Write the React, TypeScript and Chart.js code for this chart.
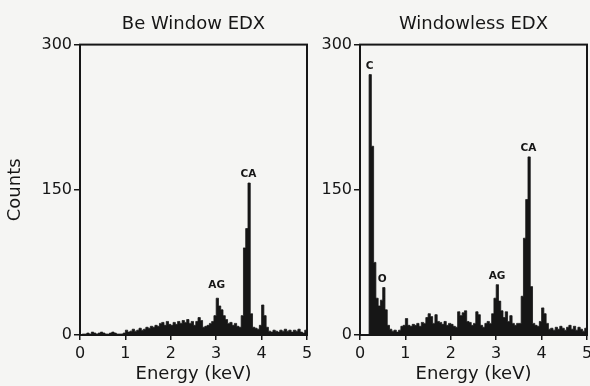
import React, { useEffect, useRef } from "react";
import { Chart, registerables } from "chart.js";

Chart.register(...registerables);

// ---- data ----
const binWidthKeV = 0.05;
const binCentersKeV: number[] = Array.from({ length: 100 }, (_, i) => +(binWidthKeV / 2 + i * binWidthKeV).toFixed(3));

const beWindowCounts = [
  0, 1, 1, 2, 1, 3, 2, 1, 2, 3,
  2, 1, 1, 2, 3, 2, 1, 1, 1, 2,
  5, 3, 4, 6, 4, 5, 7, 5, 6, 8,
  7, 9, 8, 10, 9, 12, 13, 10, 14, 11,
  10, 13, 11, 14, 12, 15, 13, 16, 12, 14,
  10, 14, 18, 15, 8, 9, 10, 12, 14, 20,
  38, 30, 26, 20, 16, 12, 13, 10, 12, 9,
  8, 20, 90, 110, 157, 22, 8, 7, 6, 10,
  31, 20, 8, 4, 3, 5, 4, 3, 5, 4,
  6, 4, 5, 3, 5, 4, 6, 3, 2, 5,
];

const windowlessCounts = [
  0, 0, 0, 0, 269, 195, 75, 38, 30, 36,
  49, 26, 10, 6, 4, 5, 3, 5, 9, 10,
  17, 10, 9, 11, 10, 12, 9, 13, 12, 18,
  22, 19, 12, 21, 14, 13, 11, 14, 10, 12,
  11, 9, 8, 24, 20, 23, 25, 14, 13, 10,
  12, 24, 21, 10, 8, 12, 14, 12, 22, 38,
  52, 35, 25, 18, 24, 14, 20, 12, 10, 12,
  12, 40, 100, 140, 184, 50, 12, 10, 9, 14,
  28, 22, 12, 6, 7, 5, 8, 6, 9, 7,
  5, 8, 10, 6, 9, 5, 8, 6, 4, 7,
];

const xTickValues = [0, 1, 2, 3, 4, 5];
const yTickValues = [0, 150, 300];

const beWindowPeakLabels = ["AG", "CA"];
const beWindowPeakKeV = [3.01, 3.71];
const beWindowPeakLabelY = [51, 166];

const windowlessPeakLabels = ["C", "O", "AG", "CA"];
const windowlessPeakKeV = [0.21, 0.49, 3.02, 3.71];
const windowlessPeakLabelY = [278, 58, 61, 193];

const titles = ["Be Window EDX", "Windowless EDX"];
const xTitle = "Energy (keV)";
const yTitle = "Counts";

// ---- styles ----
const INK = "#161616";
const BG = "#f5f5f3";
const FONT = "'DejaVu Sans', sans-serif";

type PanelProps = {
  title: string;
  counts: number[];
  peakLabels: string[];
  peakKeV: number[];
  peakY: number[];
  showYTitle: boolean;
  left: number;
  width: number;
  yAxisWidth: number;
  padRight: number;
};

function SpectrumPanel(p: PanelProps) {
  const ref = useRef<HTMLCanvasElement>(null);
  useEffect(() => {
    if (!ref.current) return;
    const points = [
      { x: 0, y: p.counts[0] },
      ...binCentersKeV.map((x, i) => ({ x, y: p.counts[i] })),
      { x: 5, y: p.counts[p.counts.length - 1] },
    ];
    const framePlugin = {
      id: "frame",
      afterDatasetsDraw(chart: any) {
        const { ctx, chartArea } = chart;
        const { left, top, right, bottom } = chartArea;
        ctx.save();
        ctx.strokeStyle = INK;
        ctx.lineWidth = 2;
        ctx.strokeRect(left, top, right - left, bottom - top);
        ctx.restore();
      },
    };
    const peakPlugin = {
      id: "peakLabels",
      afterDraw(chart: any) {
        const { ctx } = chart;
        const xs = chart.scales.x;
        const ys = chart.scales.y;
        ctx.save();
        ctx.fillStyle = INK;
        ctx.font = `bold 10.5px ${FONT}`;
        ctx.textAlign = "center";
        ctx.textBaseline = "middle";
        p.peakLabels.forEach((lab, i) => {
          ctx.fillText(lab, xs.getPixelForValue(p.peakKeV[i]), ys.getPixelForValue(p.peakY[i]));
        });
        ctx.restore();
      },
    };
    const tickFont = { family: FONT, size: 16 };
    const titleFont = { family: FONT, size: 18, weight: "normal" as const };
    const chart = new Chart(ref.current, {
      type: "line",
      data: {
        datasets: [
          {
            data: points,
            stepped: "middle",
            fill: "origin",
            backgroundColor: INK,
            borderColor: INK,
            borderWidth: 0.8,
            pointRadius: 0,
          } as any,
        ],
      },
      options: {
        responsive: false,
        animation: false,
        layout: { padding: { left: 0, right: p.padRight, top: 0, bottom: 0 } },
        plugins: {
          legend: { display: false },
          tooltip: { enabled: false },
          title: {
            display: true,
            text: p.title,
            fullSize: false,
            color: INK,
            font: titleFont,
            padding: { top: 14, bottom: 9 },
          },
        },
        scales: {
          x: {
            type: "linear",
            min: 0,
            max: 5,
            afterBuildTicks: (s: any) => {
              s.ticks = xTickValues.map((v) => ({ value: v }));
            },
            ticks: { font: tickFont, color: INK, padding: 4, maxRotation: 0, autoSkip: false },
            grid: { display: true, drawOnChartArea: false, drawTicks: true, tickLength: 5, color: INK, lineWidth: 1.5 },
            border: { display: false },
            title: { display: true, text: xTitle, color: INK, font: titleFont, padding: { top: 0, bottom: 1 } },
            afterFit: (s: any) => {
              s.height = 51;
              s.paddingLeft = 0;
              s.paddingRight = 0;
            },
          },
          y: {
            min: 0,
            max: 300,
            afterBuildTicks: (s: any) => {
              s.ticks = yTickValues.map((v) => ({ value: v }));
            },
            ticks: { font: tickFont, color: INK, padding: 2 },
            grid: { display: true, drawOnChartArea: false, drawTicks: true, tickLength: 6, color: INK, lineWidth: 1.5 },
            border: { display: false },
            title: { display: p.showYTitle, text: yTitle, color: INK, font: titleFont, padding: { top: 5, bottom: 0 } },
            afterFit: (s: any) => {
              s.width = p.yAxisWidth;
              s.paddingTop = 0;
              s.paddingBottom = 0;
            },
          },
        },
      },
      plugins: [framePlugin, peakPlugin],
    } as any);
    return () => chart.destroy();
  }, []);
  return (
    <canvas
      ref={ref}
      width={p.width}
      height={386}
      style={{ position: "absolute", left: p.left, top: 0, width: p.width, height: 386 }}
    />
  );
}

export default function App() {
  useEffect(() => {
    document.body.style.margin = "0";
    document.body.style.background = BG;
  }, []);
  return (
    <div style={{ position: "absolute", left: 0, top: 0, width: 590, height: 386, overflow: "hidden", background: BG }}>
      <SpectrumPanel
        title={titles[0]}
        counts={beWindowCounts}
        peakLabels={beWindowPeakLabels}
        peakKeV={beWindowPeakKeV}
        peakY={beWindowPeakLabelY}
        showYTitle={true}
        left={0}
        width={312}
        yAxisWidth={80}
        padRight={5}
      />
      <SpectrumPanel
        title={titles[1]}
        counts={windowlessCounts}
        peakLabels={windowlessPeakLabels}
        peakKeV={windowlessPeakKeV}
        peakY={windowlessPeakLabelY}
        showYTitle={false}
        left={310}
        width={280}
        yAxisWidth={50}
        padRight={3}
      />
    </div>
  );
}
